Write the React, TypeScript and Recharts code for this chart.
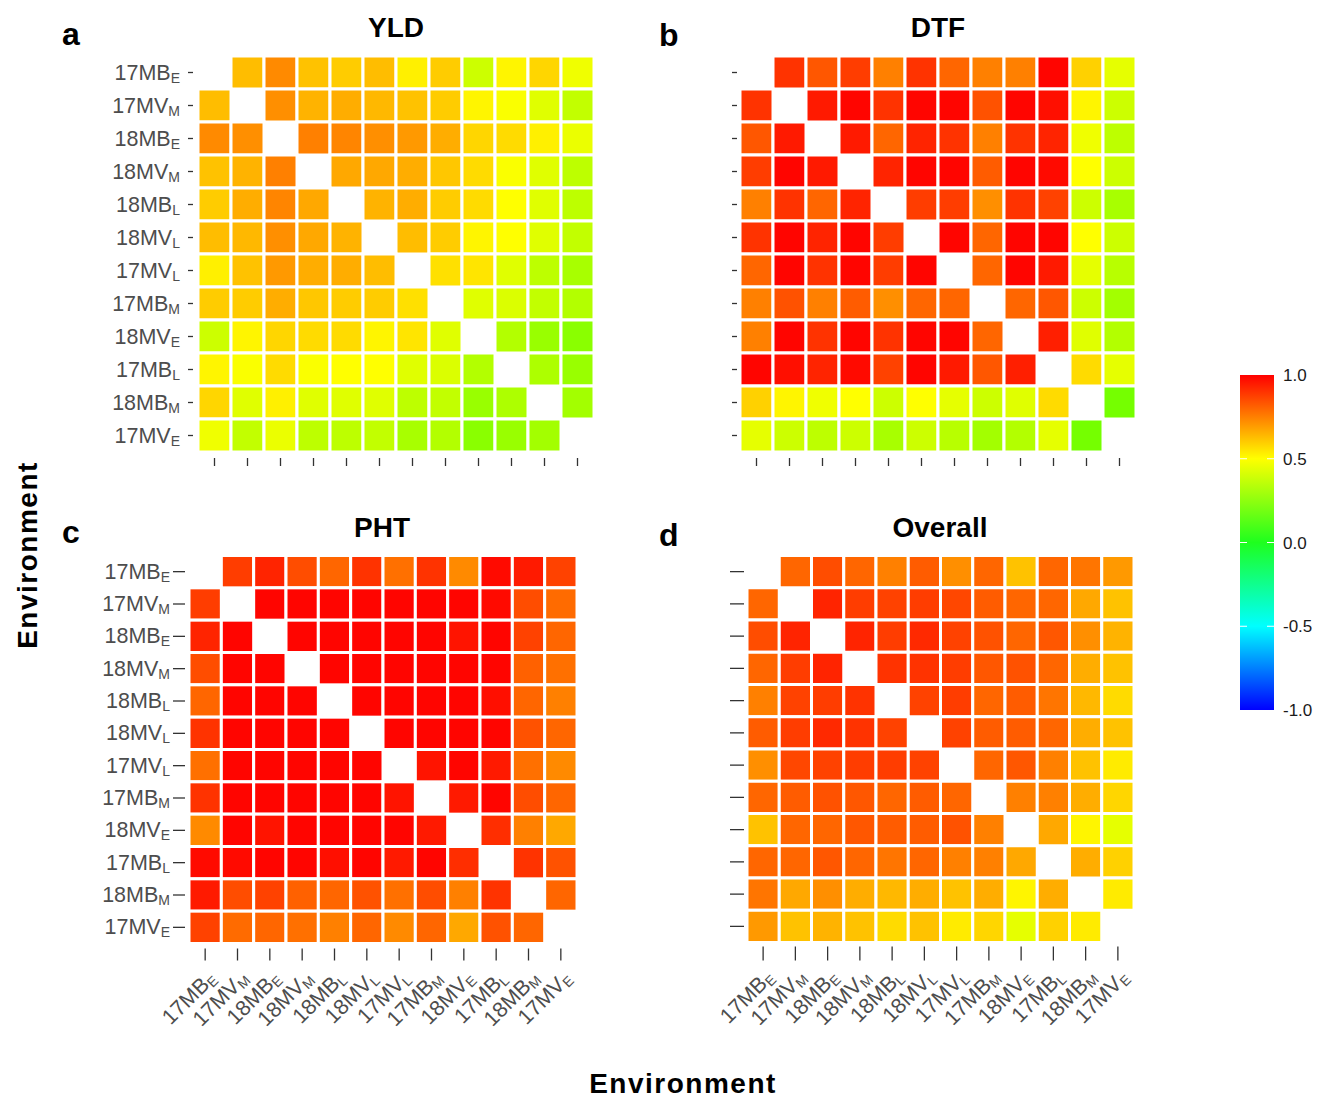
import { ScatterChart, Scatter, XAxis, YAxis } from "recharts";

const envLabels = [
  "17MB_E", "17MV_M", "18MB_E", "18MV_M", "18MB_L", "18MV_L",
  "17MV_L", "17MB_M", "18MV_E", "17MB_L", "18MB_M", "17MV_E",
];
const envIndex = envLabels.map((_, i) => i);

// rows follow envLabels top to bottom, columns left to right; null = diagonal
const yldValues = [
  [null, 0.63, 0.73, 0.62, 0.6, 0.63, 0.53, 0.6, 0.4, 0.52, 0.58, 0.47],
  [0.63, null, 0.72, 0.65, 0.66, 0.64, 0.62, 0.6, 0.52, 0.49, 0.44, 0.38],
  [0.73, 0.72, null, 0.75, 0.74, 0.72, 0.7, 0.66, 0.58, 0.57, 0.53, 0.46],
  [0.62, 0.65, 0.75, null, 0.67, 0.67, 0.66, 0.61, 0.57, 0.49, 0.44, 0.37],
  [0.6, 0.66, 0.74, 0.67, null, 0.65, 0.66, 0.6, 0.57, 0.5, 0.44, 0.37],
  [0.63, 0.64, 0.72, 0.67, 0.65, null, 0.63, 0.6, 0.52, 0.5, 0.44, 0.38],
  [0.53, 0.62, 0.7, 0.66, 0.66, 0.63, null, 0.56, 0.55, 0.44, 0.37, 0.33],
  [0.6, 0.6, 0.66, 0.61, 0.6, 0.6, 0.56, null, 0.44, 0.43, 0.38, 0.35],
  [0.4, 0.52, 0.58, 0.57, 0.57, 0.52, 0.55, 0.44, null, 0.35, 0.3, 0.27],
  [0.52, 0.49, 0.57, 0.49, 0.5, 0.5, 0.44, 0.43, 0.35, null, 0.34, 0.3],
  [0.58, 0.44, 0.53, 0.44, 0.44, 0.44, 0.37, 0.38, 0.3, 0.34, null, 0.32],
  [0.47, 0.38, 0.46, 0.37, 0.37, 0.38, 0.33, 0.35, 0.27, 0.3, 0.32, null],
];

const dtfValues = [
  [null, 0.9, 0.83, 0.88, 0.75, 0.9, 0.8, 0.75, 0.75, 0.99, 0.59, 0.45],
  [0.9, null, 0.95, 0.99, 0.9, 0.99, 0.99, 0.84, 0.99, 0.97, 0.52, 0.4],
  [0.83, 0.95, null, 0.95, 0.8, 0.93, 0.9, 0.75, 0.9, 0.93, 0.47, 0.37],
  [0.88, 0.99, 0.95, null, 0.93, 0.99, 0.99, 0.82, 0.99, 0.98, 0.5, 0.4],
  [0.75, 0.9, 0.8, 0.93, null, 0.88, 0.88, 0.72, 0.9, 0.87, 0.4, 0.33],
  [0.9, 0.99, 0.93, 0.99, 0.88, null, 0.99, 0.8, 0.99, 0.99, 0.5, 0.4],
  [0.8, 0.99, 0.9, 0.99, 0.88, 0.99, null, 0.8, 0.99, 0.95, 0.45, 0.36],
  [0.75, 0.84, 0.75, 0.82, 0.72, 0.8, 0.8, null, 0.8, 0.83, 0.4, 0.32],
  [0.75, 0.99, 0.9, 0.99, 0.9, 0.99, 0.99, 0.8, null, 0.94, 0.44, 0.35],
  [0.99, 0.97, 0.93, 0.98, 0.87, 0.99, 0.95, 0.83, 0.94, null, 0.57, 0.45],
  [0.59, 0.52, 0.47, 0.5, 0.4, 0.5, 0.45, 0.4, 0.44, 0.57, null, 0.23],
  [0.45, 0.4, 0.37, 0.4, 0.33, 0.4, 0.36, 0.32, 0.35, 0.45, 0.23, null],
];

const phtValues = [
  [null, 0.88, 0.93, 0.85, 0.8, 0.9, 0.78, 0.9, 0.73, 0.98, 0.95, 0.87],
  [0.88, null, 0.99, 0.99, 0.99, 0.99, 0.99, 0.99, 0.99, 0.98, 0.85, 0.79],
  [0.93, 0.99, null, 0.99, 0.99, 0.99, 0.99, 0.99, 0.96, 0.99, 0.87, 0.8],
  [0.85, 0.99, 0.99, null, 0.99, 0.99, 0.99, 0.99, 0.99, 0.99, 0.81, 0.78],
  [0.8, 0.99, 0.99, 0.99, null, 0.99, 0.99, 0.99, 0.99, 0.97, 0.8, 0.75],
  [0.9, 0.99, 0.99, 0.99, 0.99, null, 0.99, 0.99, 0.99, 0.99, 0.84, 0.8],
  [0.78, 0.99, 0.99, 0.99, 0.99, 0.99, null, 0.96, 0.99, 0.95, 0.78, 0.73],
  [0.9, 0.99, 0.99, 0.99, 0.99, 0.99, 0.96, null, 0.95, 0.99, 0.85, 0.8],
  [0.73, 0.99, 0.96, 0.99, 0.99, 0.99, 0.99, 0.95, null, 0.91, 0.75, 0.67],
  [0.98, 0.98, 0.99, 0.99, 0.97, 0.99, 0.95, 0.99, 0.91, null, 0.9, 0.84],
  [0.95, 0.85, 0.87, 0.81, 0.8, 0.84, 0.78, 0.85, 0.75, 0.9, null, 0.8],
  [0.87, 0.79, 0.8, 0.78, 0.75, 0.8, 0.73, 0.8, 0.67, 0.84, 0.8, null],
];

const overallValues = [
  [null, 0.8, 0.85, 0.8, 0.75, 0.82, 0.72, 0.8, 0.62, 0.8, 0.77, 0.7],
  [0.8, null, 0.93, 0.88, 0.87, 0.88, 0.86, 0.82, 0.8, 0.8, 0.67, 0.62],
  [0.85, 0.93, null, 0.93, 0.88, 0.92, 0.87, 0.84, 0.8, 0.83, 0.72, 0.65],
  [0.8, 0.88, 0.93, null, 0.9, 0.9, 0.88, 0.83, 0.84, 0.8, 0.66, 0.62],
  [0.75, 0.87, 0.88, 0.9, null, 0.87, 0.88, 0.8, 0.82, 0.77, 0.64, 0.57],
  [0.82, 0.88, 0.92, 0.9, 0.87, null, 0.87, 0.82, 0.82, 0.8, 0.66, 0.62],
  [0.72, 0.86, 0.87, 0.88, 0.88, 0.87, null, 0.8, 0.83, 0.75, 0.62, 0.54],
  [0.8, 0.82, 0.84, 0.83, 0.8, 0.82, 0.8, null, 0.75, 0.75, 0.66, 0.58],
  [0.62, 0.8, 0.8, 0.83, 0.82, 0.82, 0.84, 0.75, null, 0.67, 0.52, 0.45],
  [0.8, 0.8, 0.83, 0.8, 0.77, 0.8, 0.75, 0.75, 0.67, null, 0.66, 0.59],
  [0.77, 0.67, 0.72, 0.66, 0.64, 0.66, 0.62, 0.66, 0.52, 0.66, null, 0.54],
  [0.7, 0.62, 0.65, 0.62, 0.57, 0.62, 0.54, 0.58, 0.45, 0.59, 0.54, null],
];

const colorTicks = [1.0, 0.5, 0.0, -0.5, -1.0];

const FONT = '"Liberation Sans", Arial, Helvetica, sans-serif';
const LABEL_COLOR = "#4d4d4d";
const TICK_COLOR = "#333333";

// red (1) - yellow (0.5) - green (0) - cyan (-0.5) - blue (-1)
function corrColor(v: number) {
  let r = 0, g = 0, b = 0;
  if (v >= 0.5) {
    r = 255; g = 255 * (1 - v) / 0.5;
  } else if (v >= 0) {
    r = 255 * v / 0.5; g = 255;
  } else if (v >= -0.5) {
    g = 255; b = 255 * -v / 0.5;
  } else {
    g = 255 * (1 + v) / 0.5; b = 255;
  }
  return `rgb(${Math.round(r)},${Math.round(g)},${Math.round(b)})`;
}

function toCells(matrix: (number | null)[][]) {
  const out: { x: number; y: number; v: number }[] = [];
  matrix.forEach((row, i) =>
    row.forEach((v, j) => {
      if (v !== null) out.push({ x: j, y: i, v });
    })
  );
  return out;
}

function splitLabel(idx: number) {
  const [main, sub] = envLabels[idx].split("_");
  return { main, sub };
}

const makeCellShape = (size: number) => (props: any) => {
  const { cx, cy, payload } = props;
  return (
    <rect
      x={cx - size / 2}
      y={cy - size / 2}
      width={size}
      height={size}
      fill={corrColor(payload.v)}
      stroke="#ffffff"
      strokeWidth={3}
    />
  );
};

const makeYTick = (showLabel: boolean, gap: number, len: number, labelGap: number) => (props: any) => {
  const { x, y, payload } = props;
  const { main, sub } = splitLabel(payload.value);
  return (
    <g>
      <line x1={x - gap - len} x2={x - gap} y1={y} y2={y} stroke={TICK_COLOR} strokeWidth={1.3} />
      {showLabel && (
        <text x={x - labelGap} y={y + 7} textAnchor="end" fontSize={21.5} fill={LABEL_COLOR} fontFamily={FONT}>
          <tspan>{main}</tspan>
          <tspan fontSize={14} dy={3}>{sub}</tspan>
        </text>
      )}
    </g>
  );
};

const makeXTick = (showLabel: boolean, gap: number, len: number) => (props: any) => {
  const { x, y, payload } = props;
  const { main, sub } = splitLabel(payload.value);
  const px = x + 12;
  const py = y + 36;
  return (
    <g>
      <line x1={x} x2={x} y1={y + gap} y2={y + gap + len} stroke={TICK_COLOR} strokeWidth={1.3} />
      {showLabel && (
        <text
          x={px}
          y={py}
          textAnchor="end"
          fontSize={21.5}
          fill={LABEL_COLOR}
          fontFamily={FONT}
          transform={`rotate(-45 ${px} ${py})`}
        >
          <tspan>{main}</tspan>
          <tspan fontSize={14} dy={3}>{sub}</tspan>
        </text>
      )}
    </g>
  );
};

interface PanelProps {
  values: (number | null)[][];
  left: number;
  top: number;
  axisWidth: number;
  plotSize: number;
  marginTop: number;
  axisHeight: number;
  yLabels: boolean;
  xLabels: boolean;
  yTick: [number, number];
  xTick: [number, number];
  labelGap: number;
}

const HeatPanel = (p: PanelProps) => {
  const cells = toCells(p.values);
  const width = p.axisWidth + p.plotSize + 4;
  const height = p.marginTop + p.plotSize + p.axisHeight;
  const pitch = p.plotSize / envLabels.length;
  return (
    <div style={{ position: "absolute", left: p.left, top: p.top }}>
      <ScatterChart
        width={width}
        height={height}
        margin={{ top: p.marginTop, right: 4, bottom: 0, left: 0 }}
      >
        <XAxis
          type="number"
          dataKey="x"
          domain={[-0.5, 11.5]}
          ticks={envIndex}
          interval={0}
          height={p.axisHeight}
          axisLine={false}
          tickLine={false}
          tickSize={0}
          tickMargin={0}
          tick={makeXTick(p.xLabels, p.xTick[0], p.xTick[1])}
        />
        <YAxis
          type="number"
          dataKey="y"
          domain={[-0.5, 11.5]}
          reversed
          ticks={envIndex}
          interval={0}
          width={p.axisWidth}
          axisLine={false}
          tickLine={false}
          tickSize={0}
          tickMargin={0}
          tick={makeYTick(p.yLabels, p.yTick[0], p.yTick[1], p.labelGap)}
        />
        <Scatter data={cells} shape={makeCellShape(pitch)} isAnimationActive={false} />
      </ScatterChart>
    </div>
  );
};

const BAR_TOP = 375;
const BAR_H = 335;

const App = () => {
  return (
    <div
      style={{
        position: "absolute",
        left: 0,
        top: 0,
        width: 1330,
        height: 1106,
        background: "#ffffff",
        fontFamily: FONT,
      }}
    >
      <HeatPanel values={yldValues} left={0} top={0} axisWidth={198} plotSize={396} marginTop={56}
        axisHeight={48} yLabels xLabels={false} yTick={[5, 5]} xTick={[6, 8]} labelGap={18} />
      <HeatPanel values={dtfValues} left={600} top={0} axisWidth={140} plotSize={396} marginTop={56}
        axisHeight={48} yLabels={false} xLabels={false} yTick={[3, 5]} xTick={[6, 8]} labelGap={18} />
      <HeatPanel values={phtValues} left={0} top={500} axisWidth={189} plotSize={388} marginTop={55.5}
        axisHeight={100} yLabels xLabels yTick={[4, 12]} xTick={[5, 12]} labelGap={19} />
      <HeatPanel values={overallValues} left={600} top={500} axisWidth={147} plotSize={387} marginTop={55.5}
        axisHeight={100} yLabels={false} xLabels yTick={[3, 14]} xTick={[4, 14]} labelGap={19} />

      <svg
        width={1330}
        height={1106}
        style={{ position: "absolute", left: 0, top: 0, pointerEvents: "none" }}
      >
        <defs>
          <linearGradient id="corrBar" x1="0" y1="0" x2="0" y2="1">
            <stop offset="0%" stopColor="#ff0000" />
            <stop offset="25%" stopColor="#ffff00" />
            <stop offset="50%" stopColor="#1eff1e" />
            <stop offset="75%" stopColor="#00ffff" />
            <stop offset="100%" stopColor="#0000ff" />
          </linearGradient>
        </defs>

        <g fontFamily={FONT} fontWeight="bold" fill="#000">
          <text x={62} y={45} fontSize={32}>a</text>
          <text x={659} y={46} fontSize={32}>b</text>
          <text x={62} y={543} fontSize={32}>c</text>
          <text x={659} y={546} fontSize={32}>d</text>
          <text x={396} y={37} fontSize={28} textAnchor="middle">YLD</text>
          <text x={938} y={37} fontSize={28} textAnchor="middle">DTF</text>
          <text x={382} y={537} fontSize={28} textAnchor="middle">PHT</text>
          <text x={940} y={537} fontSize={28} textAnchor="middle">Overall</text>
          <text x={683} y={1093} fontSize={28} textAnchor="middle" letterSpacing={1.5}>Environment</text>
          <text x={37} y={555} fontSize={28} textAnchor="middle" letterSpacing={1.5}
            transform="rotate(-90 37 555)">Environment</text>
        </g>

        <rect x={1240} y={BAR_TOP} width={34} height={BAR_H} fill="url(#corrBar)" />
        {colorTicks.map((t) => {
          const y = BAR_TOP + ((1 - t) / 2) * BAR_H;
          return (
            <g key={t}>
              {t < 1 && t > -1 && (
                <g stroke="#ffffff" strokeWidth={1}>
                  <line x1={1240} x2={1247} y1={y} y2={y} />
                  <line x1={1267} x2={1274} y1={y} y2={y} />
                </g>
              )}
              <text x={1283} y={y + 6} fontSize={17} fill="#1a1a1a" fontFamily={FONT}>
                {t.toFixed(1)}
              </text>
            </g>
          );
        })}
      </svg>
    </div>
  );
};

export default App;
